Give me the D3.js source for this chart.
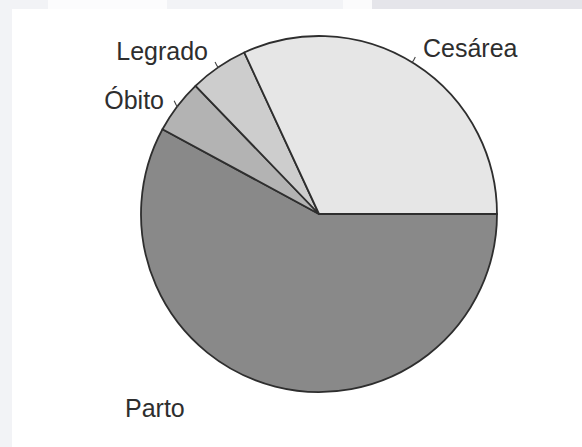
<!DOCTYPE html>
<html>
<head>
<meta charset="utf-8">
<script src="https://cdn.jsdelivr.net/npm/d3@7"></script>
<style>
  body { margin: 0; background: #ffffff; }
  svg { display: block; }
</style>
</head>
<body>
<div id="chart"></div>
<script>
// slices, clockwise from 3 o'clock
const categories = ["Parto", "Óbito", "Legrado", "Cesárea"];
const values = [57.9, 4.9, 5.3, 31.9];
const fills = ["#898989", "#b3b3b3", "#cdcdcd", "#e6e6e6"];

const width = 582, height = 447;
const center = { x: 319, y: 214 };
const radius = 178;

// label anchors; tick = where on the slice (0..1) the small leader sits
const labelPos = {
  "Cesárea": { x: 423, y: 57, anchor: "start", tick: 0.49 },
  "Legrado": { x: 208, y: 60, anchor: "end", tick: 0.5 },
  "Óbito": { x: 164, y: 109, anchor: "end", tick: 0.5 },
  "Parto": { x: 125, y: 417, anchor: "start", tick: null },
};

const svg = d3.select("#chart")
  .append("svg")
  .attr("width", width)
  .attr("height", height);

// the frame of the original screenshot
const frame = svg.append("g");
frame.append("rect").attr("x", 0).attr("y", 0).attr("width", 12).attr("height", height).attr("fill", "#f2f3f6");
frame.append("rect").attr("x", 0).attr("y", 0).attr("width", 48).attr("height", 9).attr("fill", "#f2f3f6");
frame.append("rect").attr("x", 48).attr("y", 0).attr("width", 119).attr("height", 9).attr("fill", "#fcfcfd");
frame.append("rect").attr("x", 167).attr("y", 0).attr("width", 176).attr("height", 9).attr("fill", "#f2f3f6");
frame.append("rect").attr("x", 343).attr("y", 0).attr("width", 29).attr("height", 9).attr("fill", "#fbfbfc");
frame.append("rect").attr("x", 372).attr("y", 0).attr("width", 210).attr("height", 9).attr("fill", "#e5e5ea");

const pie = d3.pie()
  .sort(null)
  .value(d => d)
  .startAngle(Math.PI / 2)
  .endAngle(Math.PI / 2 + 2 * Math.PI);

const arcs = pie(values);
const arc = d3.arc().innerRadius(0).outerRadius(radius);

const g = svg.append("g")
  .attr("transform", `translate(${center.x},${center.y})`);

g.selectAll("path.slice")
  .data(arcs)
  .join("path")
  .attr("class", "slice")
  .attr("d", arc)
  .attr("fill", (d, i) => fills[i])
  .attr("stroke", "#2e2e2e")
  .attr("stroke-width", 1.8)
  .attr("stroke-linejoin", "round");

// short leader ticks at the rim
arcs.forEach((d, i) => {
  const lp = labelPos[categories[i]];
  if (lp.tick === null) return;
  const a = d.startAngle + (d.endAngle - d.startAngle) * lp.tick;
  const x1 = Math.sin(a) * (radius - 1), y1 = -Math.cos(a) * (radius - 1);
  const dir = lp.anchor === "start" ? 1 : -1;
  g.append("path")
    .attr("d", `M${x1},${y1} L${x1 + dir * 2},${y1 - 2} L${x1 + dir * 4},${y1 - 6}`)
    .attr("fill", "none")
    .attr("stroke", "#444")
    .attr("stroke-width", 1.1);
});

svg.selectAll("text.label")
  .data(categories)
  .join("text")
  .attr("class", "label")
  .attr("x", d => labelPos[d].x)
  .attr("y", d => labelPos[d].y)
  .attr("text-anchor", d => labelPos[d].anchor)
  .attr("font-family", "Liberation Sans, Arial, sans-serif")
  .attr("font-size", 25)
  .attr("fill", "#2e2e2e")
  .text(d => d);
</script>
</body>
</html>
